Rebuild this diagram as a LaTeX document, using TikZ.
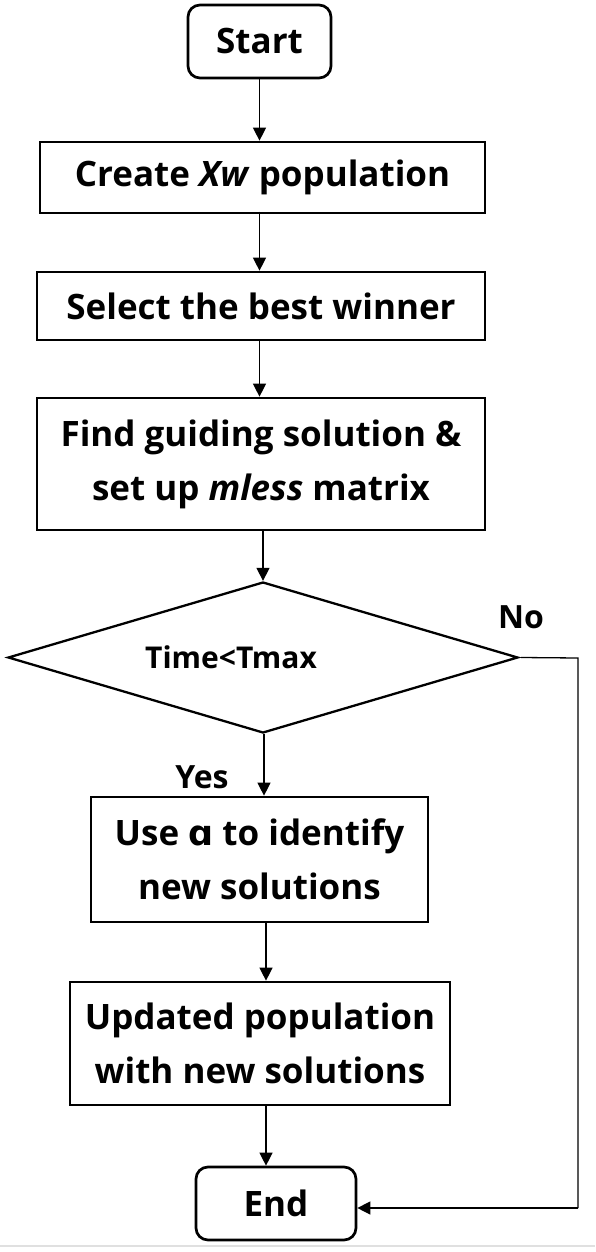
\documentclass[tikz,border=0pt]{standalone}
\usepackage{fontspec}
\setmainfont{Open Sans}
\usetikzlibrary{shapes.geometric,arrows.meta}
\begin{document}
\begin{tikzpicture}[x=1pt,y=-1pt,
  base/.style={draw=black,line width=2.7pt,inner sep=0pt,align=center,
    font=\fontsize{35}{54}\selectfont\bfseries},
  term/.style={base,rounded corners=12pt},
  proc/.style={base},
  dec/.style={base,diamond,line width=2.3pt,aspect=3.38},
  conn/.style={line width=1.3pt,-{Triangle[length=13pt,width=13pt]}},
  lbl/.style={font=\fontsize{32}{36}\selectfont\bfseries,inner sep=0pt}]
\useasboundingbox (0,0) rectangle (595,1252);
\node[term,minimum width=143pt,minimum height=73pt] (start) at (259.5,41.5) {Start};
\node[proc,minimum width=445pt,minimum height=71pt] (create) at (262.5,177.5) {Create \textit{Xw} population};
\node[proc,minimum width=448pt,minimum height=68pt] (select) at (261,306) {Select the best winner};
\node[proc,minimum width=448pt,minimum height=132pt] (find) at (261,464) {Find guiding solution \&\\set up \textit{mless} matrix};
\node[dec,minimum width=510pt,minimum height=151pt,
  label={[font=\fontsize{30}{34}\selectfont\bfseries,xshift=-32pt]center:Time<Tmax}] (dec) at (263,657.5) {};
\node[proc,minimum width=337pt,minimum height=125pt] (use) at (259.5,859.5) {Use {\fontspec{DejaVu Sans}\bfseries ɑ} to identify\\new solutions};
\node[proc,minimum width=380pt,minimum height=123pt] (upd) at (260,1043.5) {Updated population\\with new solutions};
\node[term,minimum width=160pt,minimum height=73pt] (end) at (276,1203.5) {End};
\node[lbl] (no) at (521,617) {No};
\node[lbl] (yes) at (202,777) {Yes};
\coordinate (corner1) at (578,658);
\coordinate (corner2) at (578,1208);
\draw[conn] (start.south) -- (create.north -| start.south);
\draw[conn] (create.north -| start.south) ++(0,71) coordinate (c1) -- (select.north -| c1);
\draw[conn] (select.south -| c1) -- (find.north -| c1);
\draw[conn] (find.south -| dec.north) -- (dec.north);
\draw[conn] (dec.south) ++(1,0) coordinate (c2) -- (use.north -| c2);
\draw[conn] (use.south) ++(6.5,0) coordinate (c3) -- (upd.north -| c3);
\draw[conn] (upd.south) ++(6,0) coordinate (c4) -- (end.north -| c4);
\draw[line width=1.3pt] (dec.east) ++(2,0) -- (corner1) -- (corner2);
\draw[conn] (corner2) -- (end.east |- corner2);
\draw[black!12,line width=1.5pt] (0,1246) -- (595,1246);
\end{tikzpicture}
\end{document}
